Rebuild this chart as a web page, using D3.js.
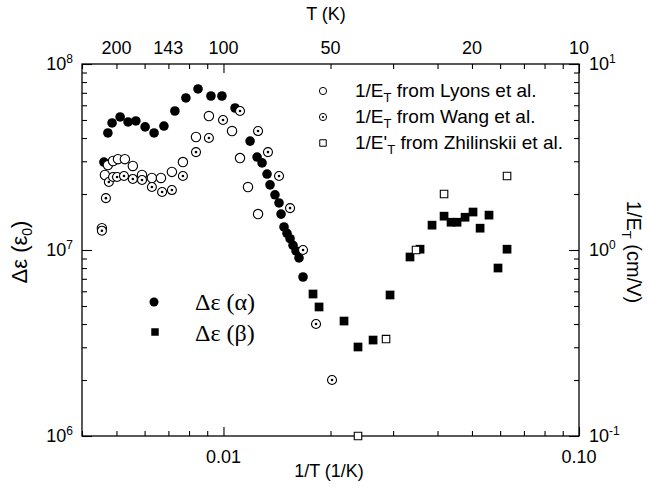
<!DOCTYPE html>
<html>
<head>
<meta charset="utf-8">
<script src="https://cdn.jsdelivr.net/npm/d3@7"></script>
<style>
  body { margin: 0; background: #fff; }
  text { font-family: "Liberation Sans", Arial, sans-serif; fill: #000; }
  .serif { font-family: "Liberation Serif", "Times New Roman", serif; }
</style>
</head>
<body>
<div id="chart"></div>
<script>
// delta epsilon (alpha), filled circles : 1/T (1/K), value (eps0)
const alphaX = [0.00461, 0.00473, 0.00486, 0.00512, 0.00539, 0.00567, 0.00602, 0.00638, 0.00680, 0.00730,
    0.00784, 0.00848, 0.00922, 0.00990, 0.01078, 0.01188, 0.01243, 0.01284, 0.01326, 0.01352,
    0.01396, 0.01433, 0.01452, 0.01480, 0.01509, 0.01539, 0.01569, 0.01600, 0.01631, 0.01674];
const alphaY = [2.97e7, 4.26e7, 4.82e7, 5.19e7, 4.88e7, 4.94e7, 4.59e7, 4.26e7, 4.64e7, 5.59e7,
    6.57e7, 7.34e7, 6.73e7, 6.73e7, 5.80e7, 3.85e7, 3.16e7, 2.94e7, 2.56e7, 2.24e7,
    1.98e7, 1.79e7, 1.56e7, 1.33e7, 1.23e7, 1.15e7, 1.06e7, 9.88e6, 9.06e6, 7.16e6];

// delta epsilon (beta), filled squares
const betaX = [0.01786, 0.01857, 0.02183, 0.02390, 0.02635, 0.02941, 0.03347, 0.03572, 0.03860,
    0.04173, 0.04366, 0.04539, 0.04781, 0.05034, 0.05270, 0.05583, 0.05918, 0.06275];
const betaY = [5.80e6, 4.94e6, 4.15e6, 3.01e6, 3.28e6, 5.73e6, 9.17e6, 1.01e7, 1.36e7,
    1.52e7, 1.41e7, 1.41e7, 1.50e7, 1.60e7, 1.31e7, 1.54e7, 8.00e6, 1.01e7];

// 1/E_T from Lyons et al. (cm/V), open circles, right axis
const lyonsX = [0.00455, 0.00464, 0.00473, 0.00489, 0.00505, 0.00528, 0.00556, 0.00590, 0.00629,
    0.00667, 0.00716, 0.00769, 0.00837, 0.00910, 0.01057, 0.01113, 0.01172, 0.01251];
const lyonsY = [1.31, 2.53, 2.86, 3.01, 3.08, 3.08, 2.83, 2.53, 2.44,
    2.44, 2.63, 2.97, 4.05, 5.25, 4.36, 3.12, 2.18, 1.56];

// 1/E_T from Wang et al., dotted circles
const wangX = [0.00455, 0.00467, 0.00476, 0.00489, 0.00502, 0.00525, 0.00556, 0.00590, 0.00629,
    0.00672, 0.00716, 0.00769, 0.00837, 0.00910, 0.00997, 0.01113, 0.01251, 0.01334, 0.01433,
    0.01539, 0.01674, 0.01821, 0.02020];
const wangY = [1.27, 1.90, 2.32, 2.47, 2.47, 2.50, 2.41, 2.38, 2.18,
    2.05, 2.10, 2.50, 3.36, 4.00, 5.00, 5.59, 4.36, 3.36, 2.50,
    1.68, 1.00, 0.400, 0.200];

// 1/E'_T from Zhilinskii et al., open squares
const zhilX = [0.02390, 0.02866, 0.03480, 0.04173, 0.06275];
const zhilY = [0.100, 0.332, 1.00, 2.00, 2.50];

const topTemps = [200, 143, 100, 50, 20, 10];
const bottomLabels = [0.01, 0.1];
const leftExps = [6, 7, 8];
const rightExps = [-1, 0, 1];

const width = 647, height = 487;
const margin = {left: 82, right: 68, top: 64, bottom: 51};

const svg = d3.select("#chart").append("svg")
    .attr("width", width)
    .attr("height", height);

const x = d3.scaleLog().domain([0.004, 0.1]).range([margin.left, width - margin.right]);
const y = d3.scaleLog().domain([1e6, 1e8]).range([height - margin.bottom, margin.top]);
const yR = d3.scaleLog().domain([0.1, 10]).range([height - margin.bottom, margin.top]);

const isMajor = d => Math.abs(Math.log10(d) - Math.round(Math.log10(d))) < 1e-6;

function styleAxis(g, attr, len) {
    g.select(".domain").remove();
    g.selectAll(".tick line")
        .attr("stroke", "#000")
        .attr("stroke-width", 1.1)
        .filter(isMajor)
        .attr(attr, len);
    g.selectAll(".tick text").remove();
}

svg.append("g")
    .attr("transform", "translate(0," + y.range()[0] + ")")
    .call(d3.axisBottom(x).tickValues(x.ticks()).tickSize(-5).tickSizeOuter(0))
    .call(g => styleAxis(g, "y2", -9));

svg.append("g")
    .attr("transform", "translate(0," + y.range()[1] + ")")
    .call(d3.axisTop(x).tickValues(x.ticks()).tickSize(-5).tickSizeOuter(0))
    .call(g => styleAxis(g, "y2", 9));

svg.append("g")
    .attr("transform", "translate(" + x.range()[0] + ",0)")
    .call(d3.axisLeft(y).tickValues(y.ticks()).tickSize(-5).tickSizeOuter(0))
    .call(g => styleAxis(g, "x2", 10));

svg.append("g")
    .attr("transform", "translate(" + x.range()[1] + ",0)")
    .call(d3.axisRight(yR).tickValues(yR.ticks()).tickSize(-5).tickSizeOuter(0))
    .call(g => styleAxis(g, "x2", -10));

svg.append("rect")
    .attr("x", x.range()[0])
    .attr("y", y.range()[1])
    .attr("width", x.range()[1] - x.range()[0])
    .attr("height", y.range()[0] - y.range()[1])
    .attr("fill", "none")
    .attr("stroke", "#000")
    .attr("stroke-width", 1.3);

// tick labels
svg.selectAll(".ltl").data(leftExps).enter().append("text")
    .attr("class", "ltl")
    .attr("x", 73)
    .attr("y", d => y(Math.pow(10, d)) + 6)
    .attr("text-anchor", "end")
    .style("font-size", "18px")
    .each(function (d) {
        const t = d3.select(this);
        t.append("tspan").text("10");
        t.append("tspan").attr("dy", -7).style("font-size", "12px").text(d);
    });

svg.selectAll(".rtl").data(rightExps).enter().append("text")
    .attr("class", "rtl")
    .attr("x", 589)
    .attr("y", d => yR(Math.pow(10, d)) + 6)
    .style("font-size", "18px")
    .each(function (d) {
        const t = d3.select(this);
        t.append("tspan").text("10");
        t.append("tspan").attr("dy", -7).style("font-size", "12px").text(d);
    });

svg.selectAll(".ttl").data(topTemps).enter().append("text")
    .attr("class", "ttl")
    .attr("x", d => x(1 / d))
    .attr("y", 54)
    .attr("text-anchor", "middle")
    .style("font-size", "18px")
    .text(d => d);

svg.selectAll(".btl").data(bottomLabels).enter().append("text")
    .attr("class", "btl")
    .attr("x", d => x(d))
    .attr("y", 463)
    .attr("text-anchor", "middle")
    .style("font-size", "18px")
    .text(d => d.toFixed(2));

// axis titles
svg.append("text")
    .attr("x", 326).attr("y", 20)
    .attr("text-anchor", "middle")
    .style("font-size", "18px")
    .text("T (K)");

svg.append("text")
    .attr("x", 329).attr("y", 477)
    .attr("text-anchor", "middle")
    .style("font-size", "18px")
    .text("1/T (1/K)");

const leftTitle = svg.append("text")
    .attr("transform", "translate(27,252) rotate(-90)")
    .attr("text-anchor", "middle")
    .style("font-size", "22px");
leftTitle.append("tspan").text("\u0394\u03b5 (\u03b5");
leftTitle.append("tspan").attr("dy", 5).style("font-size", "14px").text("0");
leftTitle.append("tspan").attr("dy", -5).text(")");

const rightTitle = svg.append("text")
    .attr("transform", "translate(627,252) rotate(90)")
    .attr("text-anchor", "middle")
    .style("font-size", "20px");
rightTitle.append("tspan").text("1/E");
rightTitle.append("tspan").attr("dy", 5).style("font-size", "13px").text("T");
rightTitle.append("tspan").attr("dy", -5).text(" (cm/V)");

// data
const sq = d3.symbol().type(d3.symbolSquare);
const plot = svg.append("g");

plot.selectAll(".alpha").data(alphaX).enter().append("circle")
    .attr("class", "alpha")
    .attr("cx", d => x(d))
    .attr("cy", (d, i) => y(alphaY[i]))
    .attr("r", 4.8)
    .attr("fill", "#000");

plot.selectAll(".beta").data(betaX).enter().append("path")
    .attr("class", "beta")
    .attr("d", sq.size(76))
    .attr("transform", (d, i) => "translate(" + x(d) + "," + y(betaY[i]) + ")")
    .attr("fill", "#000");

plot.selectAll(".lyons").data(lyonsX).enter().append("circle")
    .attr("class", "lyons")
    .attr("cx", d => x(d))
    .attr("cy", (d, i) => yR(lyonsY[i]))
    .attr("r", 4.7)
    .attr("fill", "#fff")
    .attr("stroke", "#000")
    .attr("stroke-width", 1.1);

const wang = plot.selectAll(".wang").data(wangX).enter().append("g")
    .attr("class", "wang")
    .attr("transform", (d, i) => "translate(" + x(d) + "," + yR(wangY[i]) + ")");
wang.append("circle").attr("r", 4.5).attr("fill", "#fff").attr("stroke", "#000").attr("stroke-width", 1.1);
wang.append("circle").attr("r", 1.3).attr("fill", "#000");

plot.selectAll(".zhil").data(zhilX).enter().append("path")
    .attr("class", "zhil")
    .attr("d", sq.size(56))
    .attr("transform", (d, i) => "translate(" + x(d) + "," + yR(zhilY[i]) + ")")
    .attr("fill", "#fff")
    .attr("stroke", "#000")
    .attr("stroke-width", 1.1);

// legend, top right
const legendRows = [
    {sym: "lyons", pre: "1/E", post: " from Lyons et al."},
    {sym: "wang", pre: "1/E", post: " from Wang et al."},
    {sym: "zhil", pre: "1/E'", post: " from Zhilinskii et al."}
];
const leg = svg.append("g");
legendRows.forEach(function (r, i) {
    const ly = 91 + i * 26;
    if (r.sym === "zhil") {
        leg.append("path").attr("d", sq.size(42)).attr("transform", "translate(323," + ly + ")")
            .attr("fill", "#fff").attr("stroke", "#000").attr("stroke-width", 1);
    } else {
        leg.append("circle").attr("cx", 323).attr("cy", ly).attr("r", 3.6)
            .attr("fill", "#fff").attr("stroke", "#000").attr("stroke-width", 1);
        if (r.sym === "wang") leg.append("circle").attr("cx", 323).attr("cy", ly).attr("r", 1.1);
    }
    const t = leg.append("text").attr("x", 355).attr("y", ly + 6).style("font-size", "19px");
    t.append("tspan").text(r.pre);
    t.append("tspan").attr("dy", 5).style("font-size", "13px").text("T");
    t.append("tspan").attr("dy", -5).text(r.post);
});

// legend, lower left
leg.append("circle").attr("cx", 154).attr("cy", 302).attr("r", 4.5).attr("fill", "#000");
leg.append("path").attr("d", sq.size(56)).attr("transform", "translate(155,332)").attr("fill", "#000");
leg.append("text").attr("class", "serif").attr("x", 195).attr("y", 310)
    .style("font-size", "24px").text("\u0394\u03b5 (\u03b1)");
leg.append("text").attr("class", "serif").attr("x", 195).attr("y", 341)
    .style("font-size", "24px").text("\u0394\u03b5 (\u03b2)");
</script>
</body>
</html>
